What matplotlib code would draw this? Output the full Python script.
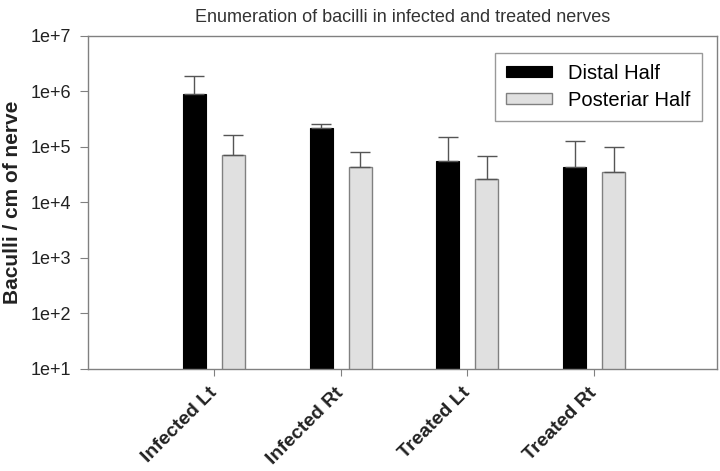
"""
Enumeration of bacilli in infected and treated nerves
"""

import numpy as np
import matplotlib
matplotlib.use('Agg')
import matplotlib.pyplot as plt
import matplotlib.transforms as mtransforms

# Данные
groups = ['Infected Lt', 'Infected Rt', 'Treated Lt', 'Treated Rt']
distal = [9.0e5, 2.17e5, 5.6e4, 4.3e4]
distal_err = [9.8e5, 3.9e4, 9.7e4, 8.4e4]
posterior = [7.1e4, 4.3e4, 2.65e4, 3.5e4]
posterior_err = [9.3e4, 3.8e4, 4.15e4, 6.5e4]
yticks = [1e1, 1e2, 1e3, 1e4, 1e5, 1e6, 1e7]
ytick_labels = ['1e+1', '1e+2', '1e+3', '1e+4', '1e+5', '1e+6', '1e+7']

plt.rcParams['font.family'] = ['Liberation Sans', 'DejaVu Sans']

fig = plt.figure(figsize=(7.2, 4.71), dpi=100)
ax = fig.add_axes([0.1222, 0.2166, 0.8736, 0.707])

x = np.arange(len(groups))
w = 0.18
off = 0.154
grey = '#808080'

ax.bar(x - off, distal, w, color='black', edgecolor='black', linewidth=0.8,
       yerr=[np.zeros(len(distal)), distal_err],
       error_kw=dict(ecolor='#555555', elinewidth=1, capsize=7, capthick=1),
       label='Distal Half', zorder=2)
ax.bar(x + off, posterior, w, color='#e0e0e0', edgecolor=grey, linewidth=1,
       yerr=[np.zeros(len(posterior)), posterior_err],
       error_kw=dict(ecolor='#555555', elinewidth=1, capsize=7, capthick=1),
       label='Posteriar Half', zorder=2)

ax.set_yscale('log')
ax.set_ylim(1e1, 1e7)
ax.set_xlim(-0.994, 3.97)
ax.set_yticks(yticks)
ax.set_yticklabels(ytick_labels, fontsize=13, color='#222222')
ax.minorticks_off()
ax.set_xticks(x)
ax.set_xticklabels(groups, rotation=45, ha='right', rotation_mode='anchor',
                   fontsize=14, fontweight='bold', color='#222222')
ax.tick_params(axis='y', direction='out', length=6, color=grey, pad=6)
ax.tick_params(axis='x', direction='out', length=5, color=grey, pad=8)

# сдвиг подписей по X чуть влево-вверх
shift = mtransforms.ScaledTranslation(-4 / 72, 2 / 72, fig.dpi_scale_trans)
for lbl in ax.get_xticklabels():
    lbl.set_transform(lbl.get_transform() + shift)

for s in ax.spines.values():
    s.set_color(grey)
    s.set_linewidth(1)

ax.set_ylabel('Baculli / cm of nerve', fontsize=15, fontweight='bold',
              color='#222222', labelpad=6)
ax.set_title('Enumeration of bacilli in infected and treated nerves',
             fontsize=13, color='#333333', pad=10)

leg = ax.legend(loc='upper right', bbox_to_anchor=(0.976, 0.95), fontsize=14.5,
                frameon=True, fancybox=False, handlelength=2.3, handleheight=0.5,
                borderpad=0.55, labelspacing=0.4, handletextpad=0.8,
                borderaxespad=0)
leg.get_frame().set_edgecolor(grey)
leg.get_frame().set_linewidth(1)

plt.savefig('out.png', dpi=100)
plt.close()
